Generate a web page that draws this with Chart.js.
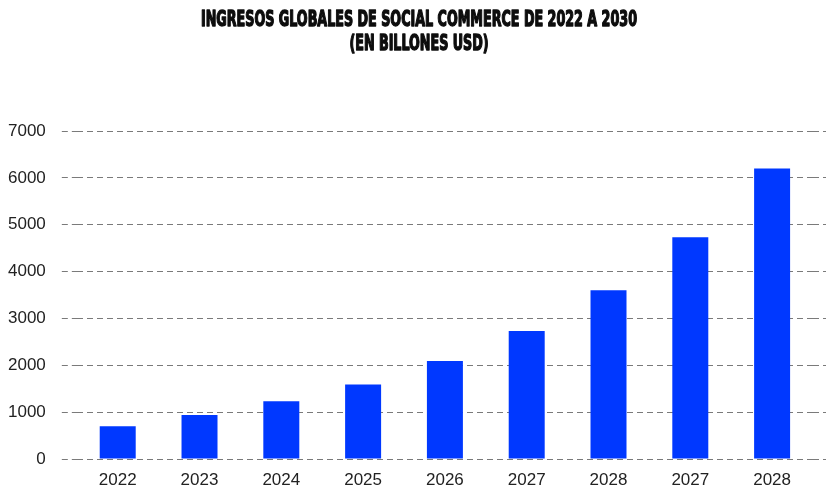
<!DOCTYPE html>
<html>
<head>
<meta charset="utf-8">
<script src="https://cdn.jsdelivr.net/npm/chart.js@4"></script>
<style>
html,body{margin:0;padding:0;background:#fff;}
#wrap{width:826px;height:489px;}
</style>
</head>
<body>
<div id="wrap"><canvas id="c"></canvas></div>
<script>
const categories = ['2022','2023','2024','2025','2026','2027','2028','2027','2028'];
const revenue = [700, 940, 1230, 1590, 2090, 2730, 3600, 4730, 6200];
const yTicks = [0, 1000, 2000, 3000, 4000, 5000, 6000, 7000];
const titleLines = ['INGRESOS GLOBALES DE SOCIAL COMMERCE DE 2022 A 2030', '(EN BILLONES USD)'];

const dash = [6, 4];
const gridColor = '#7a7a7a';

// Draws the condensed heavy title (real canvas text)
const condensedTitle = {
  id: 'condensedTitle',
  afterDraw(chart) {
    const ctx = chart.ctx;
    ctx.save();
    ctx.font = 'bold 21px "DejaVu Sans Condensed", "DejaVu Sans", sans-serif';
    ctx.fillStyle = '#0d0d0d';
    ctx.strokeStyle = '#0d0d0d';
    ctx.lineWidth = 1.4;
    ctx.lineJoin = 'round';
    ctx.textAlign = 'center';
    ctx.textBaseline = 'middle';
    const w0 = ctx.measureText(titleLines[0]).width;
    const sx = 436 / w0;
    const cx = 419;
    const ys = [21, 45];
    titleLines.forEach((t, i) => {
      ctx.save();
      ctx.translate(cx, ys[i]);
      ctx.scale(sx, 1);
      ctx.fillText(t, 0, 0);
      ctx.strokeText(t, 0, 0);
      ctx.restore();
    });
    ctx.restore();
  }
};

new Chart(document.getElementById('c'), {
  type: 'bar',
  data: {
    labels: categories,
    datasets: [{
      data: revenue,
      backgroundColor: '#0038ff',
      borderWidth: 0,
      barPercentage: 0.44,
      categoryPercentage: 1.0
    }]
  },
  options: {
    responsive: true,
    maintainAspectRatio: false,
    animation: false,
    layout: { padding: { left: -8, right: 0, top: 131, bottom: -13 } },
    plugins: {
      legend: { display: false },
      tooltip: { enabled: false },
      title: { display: false }
    },
    scales: {
      x: {
        grid: { display: false, drawTicks: false },
        border: { display: false },
        ticks: { color: '#222', font: { family: '"Liberation Sans", Arial, sans-serif', size: 17, lineHeight: 1 }, padding: 13 }
      },
      y: {
        min: yTicks[0],
        max: yTicks[yTicks.length - 1],
        afterBuildTicks: (s) => { s.ticks = yTicks.map(v => ({ value: v })); },
        grid: { color: gridColor, lineWidth: 1, tickLength: 15, tickColor: gridColor, tickBorderDash: dash },
        border: { display: false, dash: dash },
        ticks: { color: '#222', font: { family: '"Liberation Sans", Arial, sans-serif', size: 17 }, padding: 16,
                 callback: (v) => String(v) }
      },
      y2: {
        position: 'right',
        min: yTicks[0],
        max: yTicks[yTicks.length - 1],
        afterBuildTicks: (s) => { s.ticks = yTicks.map(v => ({ value: v })); },
        grid: { drawOnChartArea: false, color: gridColor, tickLength: 13, tickColor: gridColor, tickBorderDash: dash },
        border: { display: false },
        ticks: { display: false }
      }
    }
  },
  plugins: [condensedTitle]
});
</script>
</body>
</html>
